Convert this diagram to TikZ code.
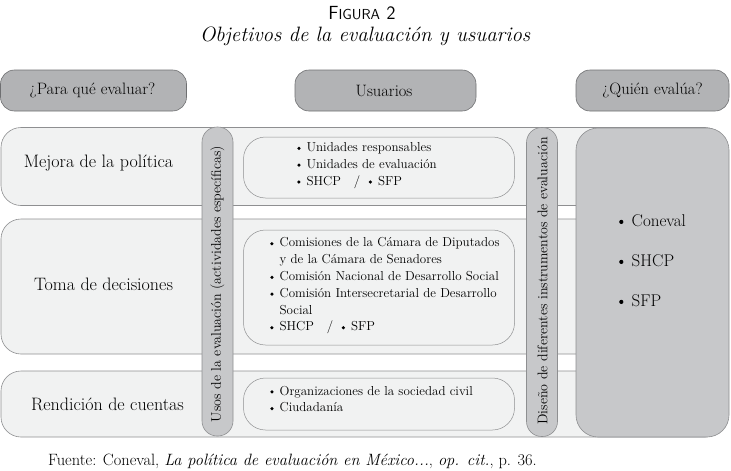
\documentclass[tikz,border=0pt]{standalone}
\usepackage{fontspec}
\definecolor{rowfill}{HTML}{F1F2F2}
\definecolor{rowline}{HTML}{8E8F91}
\definecolor{headfill}{HTML}{B2B3B5}
\definecolor{headline}{HTML}{6E6F71}
\definecolor{barfill}{HTML}{C7C8CA}
\newcommand{\bul}{\makebox[9.4pt][l]{\tikz[x=1pt,y=1pt,baseline=0pt]\fill (1.8,3.2) circle (1.75);}}
\newcommand{\bulL}{\makebox[12.5pt][l]{\tikz[x=1pt,y=1pt,baseline=0pt]\fill (2.1,4.1) circle (2.1);}}
\newcommand{\ind}{\hspace*{9.4pt}}
\begin{document}
\begin{tikzpicture}[x=1pt,y=-1pt,
  rowbox/.style={draw=rowline, fill=rowfill, rounded corners=20pt, line width=0.6pt, inner sep=0pt},
  innerbox/.style={draw=rowline, fill=rowfill, rounded corners=22pt, line width=0.5pt, inner sep=0pt, minimum width=271pt},
  headbox/.style={draw=headline, fill=headfill, rounded corners=14pt, line width=0.6pt, inner sep=0pt, minimum height=41pt},
  barbox/.style={draw=rowline, fill=barfill, rounded corners=15pt, line width=0.6pt, inner sep=0pt, minimum width=31pt, minimum height=309pt},
  bigbox/.style={draw=rowline, fill=barfill, rounded corners=22pt, line width=0.6pt, inner sep=0pt},
  labeltxt/.style={font=\fontsize{18}{20}\selectfont, inner sep=0pt},
  headtxt/.style={font=\fontsize{16.5}{20}\selectfont, inner sep=0pt},
  listline/.style={font=\fontsize{13}{16.8}\selectfont, inner sep=0pt, anchor=base west},
  bigline/.style={font=\fontsize{17}{20}\selectfont, inner sep=0pt, anchor=base west},
  vtxt/.style={font=\fontsize{14}{16}\selectfont, rotate=90, inner sep=0pt}
]
\useasboundingbox (0,0) rectangle (731,471);

% title
\node[inner sep=0pt, font=\sffamily] (fig) at (362,13) {{\fontsize{19}{20}\selectfont F}{\fontsize{14.5}{20}\selectfont IGURA}\ \ {\fontsize{19}{20}\selectfont 2}};
\node[inner sep=0pt, font=\fontsize{20.8}{24}\selectfont\itshape] (title) at (365,36) {Objetivos de la evaluación y usuarios};

% headers
\node[headbox, minimum width=186pt] (h1) at (93.5,90.5) {};
\node[headbox, minimum width=181pt] (h2) at (385.5,90.5) {};
\node[headbox, minimum width=153pt] (h3) at (652.5,90.5) {};
\node[headtxt] (h1t) at (92.5,90.5) {¿Para qué evaluar?};
\node[headtxt] (h2t) at (384,90.5) {Usuarios};
\node[headtxt] (h3t) at (652.5,90.5) {¿Quién evalúa?};

% rows
\node[rowbox, minimum width=724pt, minimum height=78pt] (r1) at (363,166.5) {};
\node[rowbox, minimum width=724pt, minimum height=135pt] (r2) at (363,286.5) {};
\node[rowbox, minimum width=724pt, minimum height=66pt] (r3) at (363,404) {};

\node[labeltxt] (r1t) at (98.5,163) {Mejora de la política};
\node[labeltxt] (r2t) at (103.5,284) {Toma de decisiones};
\node[labeltxt] (r3t) at (107.5,404) {Rendición de cuentas};

% vertical bars
\node[barbox] (usos) at (217.5,281.5) {};
\node[vtxt] (usost) at (217.5,284) {Usos de la evaluación (actividades específicas)};
\node[barbox] (dis) at (542,282) {};
\node[vtxt] (dist) at (542.5,281) {Diseño de diferentes instrumentos de evaluación};

% inner boxes
\node[innerbox, minimum height=61pt] (i1) at (379,167.5) {};
\node[innerbox, minimum height=115pt] (i2) at (379,287.5) {};
\node[innerbox, minimum height=52pt] (i3) at (379,404) {};

\node[listline] (i1a) at (297,151.6) {\bul Unidades responsables};
\node[listline] (i1b) at (297,168.4) {\bul Unidades de evaluación};
\node[listline] (i1c) at (297,185.2) {\bul SHCP \ \ / \ \bul SFP};

\node[listline] (i2a) at (270,246.9) {\bul Comisiones de la Cámara de Diputados};
\node[listline] (i2b) at (270,263.7) {\ind y de la Cámara de Senadores};
\node[listline] (i2c) at (270,280.5) {\bul Comisión Nacional de Desarrollo Social};
\node[listline] (i2d) at (270,297.3) {\bul Comisión Intersecretarial de Desarrollo};
\node[listline] (i2e) at (270,314.1) {\ind Social};
\node[listline] (i2f) at (270,330.9) {\bul SHCP \ \ / \ \bul SFP};

\node[listline] (i3a) at (270,395) {\bul Organizaciones de la sociedad civil};
\node[listline] (i3b) at (270,411.8) {\bul Ciudadanía};

% right box
\node[bigbox, minimum width=153pt, minimum height=309pt] (quien) at (652.5,282.5) {};
\node[bigline] (q1) at (619,226) {\bulL Coneval};
\node[bigline] (q2) at (619,266) {\bulL SHCP};
\node[bigline] (q3) at (619,306) {\bulL SFP};

% footer
\node[inner sep=0pt, anchor=west, font=\fontsize{16.4}{18}\selectfont] (foot) at (48,461) {Fuente: Coneval, \textit{La política de evaluación en México...}, \textit{op. cit.}, p. 36.};
\end{tikzpicture}
\end{document}
